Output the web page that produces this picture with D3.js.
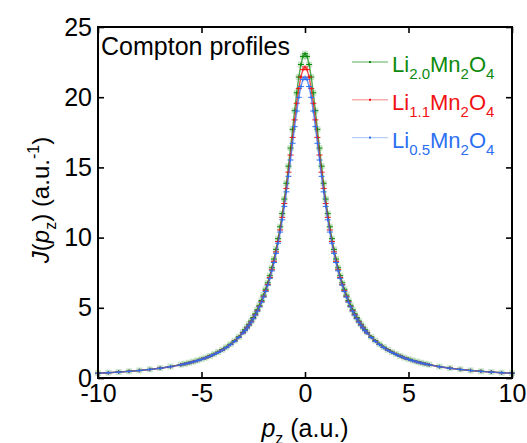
<!DOCTYPE html>
<html><head><meta charset="utf-8">
<script src="https://cdn.jsdelivr.net/npm/d3@7"></script>
<style>
body{margin:0;background:#fff}
svg text{font-family:Arial,"Liberation Sans",Helvetica,sans-serif;fill:#000}
</style>
</head><body>
<svg id="chart" width="527" height="443"></svg>
<script>
// ---- data ----
const pz = [-10,-9.5,-9,-8.5,-8,-7.5,-7,-6.5,-6,-5.8,-5.6,-5.4,-5.2,-5,-4.8,-4.6,-4.4,-4.2,-4,-3.8,-3.6,-3.4,-3.2,
  -3,-2.9,-2.8,-2.7,-2.6,-2.5,-2.4,-2.3,-2.2,-2.1,-2,-1.9,-1.8,-1.7,-1.6,-1.5,-1.4,-1.3,-1.2,-1.1,-1,-0.9,-0.8,-0.7,-0.6,-0.5,-0.4,-0.3,-0.2,-0.1,
  0,0.1,0.2,0.3,0.4,0.5,0.6,0.7,0.8,0.9,1,1.1,1.2,1.3,1.4,1.5,1.6,1.7,1.8,1.9,2,2.1,2.2,2.3,2.4,2.5,2.6,2.7,2.8,2.9,3,
  3.2,3.4,3.6,3.8,4,4.2,4.4,4.6,4.8,5,5.2,5.4,5.6,5.8,6,6.5,7,7.5,8,8.5,9,9.5,10];

const jLi20 = [0.342,0.380,0.424,0.477,0.539,0.614,0.704,0.815,0.953,1.017,1.088,1.166,1.252,1.347,1.452,1.570,1.701,1.849,2.015,2.202,2.415,2.658,2.936,
  3.256,3.435,3.628,3.836,4.062,4.306,4.572,4.862,5.178,5.524,5.904,6.321,6.781,7.288,7.849,8.471,9.161,9.927,10.775,11.712,12.744,13.871,15.087,16.376,17.711,19.044,20.313,21.437,22.327,22.901,
  23.100,22.901,22.327,21.437,20.313,19.044,17.711,16.376,15.087,13.871,12.744,11.712,10.775,9.927,9.161,8.471,7.849,7.288,6.781,6.321,5.904,5.524,5.178,4.862,4.572,4.306,4.062,3.836,3.628,3.435,3.256,
  2.936,2.658,2.415,2.202,2.015,1.849,1.701,1.570,1.452,1.347,1.252,1.166,1.088,1.017,0.953,0.815,0.704,0.614,0.539,0.477,0.424,0.380,0.342];

const jLi11 = [0.338,0.375,0.419,0.471,0.532,0.606,0.696,0.805,0.941,1.005,1.074,1.151,1.236,1.330,1.434,1.550,1.680,1.825,1.989,2.174,2.384,2.623,2.896,
  3.212,3.388,3.578,3.783,4.004,4.245,4.506,4.790,5.100,5.439,5.811,6.219,6.667,7.162,7.708,8.313,8.981,9.722,10.539,11.441,12.430,13.505,14.660,15.880,17.136,18.386,19.569,20.612,21.436,21.965,
  22.148,21.965,21.436,20.612,19.569,18.386,17.136,15.880,14.660,13.505,12.430,11.441,10.539,9.722,8.981,8.313,7.708,7.162,6.667,6.219,5.811,5.439,5.100,4.790,4.506,4.245,4.004,3.783,3.578,3.388,3.212,
  2.896,2.623,2.384,2.174,1.989,1.825,1.680,1.550,1.434,1.330,1.236,1.151,1.074,1.005,0.941,0.805,0.696,0.606,0.532,0.471,0.419,0.375,0.338];

const jLi05 = [0.337,0.374,0.418,0.469,0.531,0.604,0.693,0.802,0.938,1.001,1.070,1.147,1.231,1.325,1.428,1.544,1.673,1.818,1.980,2.164,2.373,2.610,2.882,
  3.196,3.370,3.558,3.761,3.981,4.219,4.478,4.759,5.066,5.401,5.767,6.169,6.611,7.097,7.633,8.224,8.877,9.600,10.394,11.268,12.223,13.257,14.364,15.527,16.720,17.901,19.013,19.990,20.759,21.252,
  21.422,21.252,20.759,19.990,19.013,17.901,16.720,15.527,14.364,13.257,12.223,11.268,10.394,9.600,8.877,8.224,7.633,7.097,6.611,6.169,5.767,5.401,5.066,4.759,4.478,4.219,3.981,3.761,3.558,3.370,3.196,
  2.882,2.610,2.373,2.164,1.980,1.818,1.673,1.544,1.428,1.325,1.231,1.147,1.070,1.001,0.938,0.802,0.693,0.604,0.531,0.469,0.418,0.374,0.337];

const errBar = [0.12, 0.12, 0.12];
const seriesNames = [["Li","2.0","Mn","2","O","4"],["Li","1.1","Mn","2","O","4"],["Li","0.5","Mn","2","O","4"]];
const seriesColors = ["#0d8a0d","#f01212","#2c6ff2"];
const xTicks = [-10,-5,0,5,10];
const yTicks = [0,5,10,15,20,25];

// ---- chart ----
const svg = d3.select("#chart");
const L = 98, R = 512, T = 27, B = 378;
const x = d3.scaleLinear().domain([-10,10]).range([L,R]);
const y = d3.scaleLinear().domain([0,25]).range([B,T]);
const series = [jLi20, jLi11, jLi05];

const plot = svg.append("g");
series.forEach((vals, si) => {
  const col = seriesColors[si];
  const data = pz.map((p,i)=>({p, j: vals[i]}));
  const line = d3.line().x(d=>x(d.p)).y(d=>y(d.j));
  plot.append("path").datum(data).attr("d", line)
    .attr("fill","none").attr("stroke", col).attr("stroke-width", 1.4).attr("stroke-opacity", 0.75);
  const g = plot.append("g");
  if (si === 0) {
    g.selectAll("rect").data(data).join("rect")
      .attr("x", d=>x(d.p)-3).attr("y", d=>y(d.j)-3).attr("width",6).attr("height",6)
      .attr("fill", col).attr("fill-opacity", 0.22);
  }
  g.selectAll("line.h").data(data).join("line").attr("class","h")
    .attr("x1", d=>x(d.p)-3).attr("x2", d=>x(d.p)+3)
    .attr("y1", d=>y(d.j)).attr("y2", d=>y(d.j))
    .attr("stroke", col).attr("stroke-width", 1);
  g.selectAll("line.v").data(data).join("line").attr("class","v")
    .attr("x1", d=>x(d.p)).attr("x2", d=>x(d.p))
    .attr("y1", d=>y(d.j+errBar[si])).attr("y2", d=>y(d.j-errBar[si]))
    .attr("stroke", col).attr("stroke-width", 1);
});

// axes
const fmt = d => String(d);
const axB = svg.append("g").attr("transform",`translate(0,${B})`)
  .call(d3.axisBottom(x).tickValues(xTicks).tickSize(-6).tickPadding(6).tickFormat(fmt));
const axT = svg.append("g").attr("transform",`translate(0,${T})`)
  .call(d3.axisTop(x).tickValues(xTicks).tickSize(-6).tickFormat(""));
const axL = svg.append("g").attr("transform",`translate(${L},0)`)
  .call(d3.axisLeft(y).tickValues(yTicks).tickSize(-6).tickPadding(6).tickFormat(fmt));
const axR = svg.append("g").attr("transform",`translate(${R},0)`)
  .call(d3.axisRight(y).tickValues(yTicks).tickSize(-6).tickFormat(""));
[axB,axT,axL,axR].forEach(a=>{
  a.select(".domain").remove();
  a.selectAll(".tick line").attr("stroke","#000").attr("stroke-width",1.6);
  a.selectAll(".tick text").attr("font-size",25).attr("fill","#000")
    .style("font-family","Arial, 'Liberation Sans', sans-serif");
});
svg.append("rect").attr("x",L).attr("y",T).attr("width",R-L).attr("height",B-T)
  .attr("fill","none").attr("stroke","#000").attr("stroke-width",2);

// title inside
svg.append("text").attr("x",101).attr("y",55).attr("font-size",25).text("Compton profiles");

// x axis title
const xt = svg.append("text").attr("x",305).attr("y",437).attr("text-anchor","middle").attr("font-size",25);
xt.append("tspan").attr("font-style","italic").text("p");
xt.append("tspan").attr("font-size",16).attr("dy",7).text("z");
xt.append("tspan").attr("dy",-7).text(" (a.u.)");

// y axis title
const yt = svg.append("text").attr("transform","translate(49,200) rotate(-90)")
  .attr("text-anchor","middle").attr("font-size",24);
yt.append("tspan").attr("font-style","italic").text("J");
yt.append("tspan").text("(");
yt.append("tspan").attr("font-style","italic").text("p");
yt.append("tspan").attr("font-size",16).attr("dy",7).text("z");
yt.append("tspan").attr("dy",-7).text(") (a.u.");
yt.append("tspan").attr("font-size",16).attr("dy",-10).text("-1");
yt.append("tspan").attr("dy",10).text(")");

// legend
seriesNames.forEach((parts, i) => {
  const col = seriesColors[i];
  const yy = 62 + i*37.8;
  svg.append("line").attr("x1",352).attr("x2",388).attr("y1",yy).attr("y2",yy)
    .attr("stroke",col).attr("stroke-opacity",0.35).attr("stroke-width", i===0?2.2:1.4);
  svg.append("rect").attr("x",369).attr("y",yy-1).attr("width",2).attr("height",2).attr("fill",col);
  const t = svg.append("text").attr("x",392).attr("y",yy+10).attr("font-size",22).style("fill",col);
  parts.forEach((s, k) => {
    const ts = t.append("tspan").text(s).style("fill",col);
    if (k % 2 === 1) ts.attr("font-size",15).attr("dy",7);
    else if (k > 0) ts.attr("dy",-7);
  });
});
</script>
</body></html>
